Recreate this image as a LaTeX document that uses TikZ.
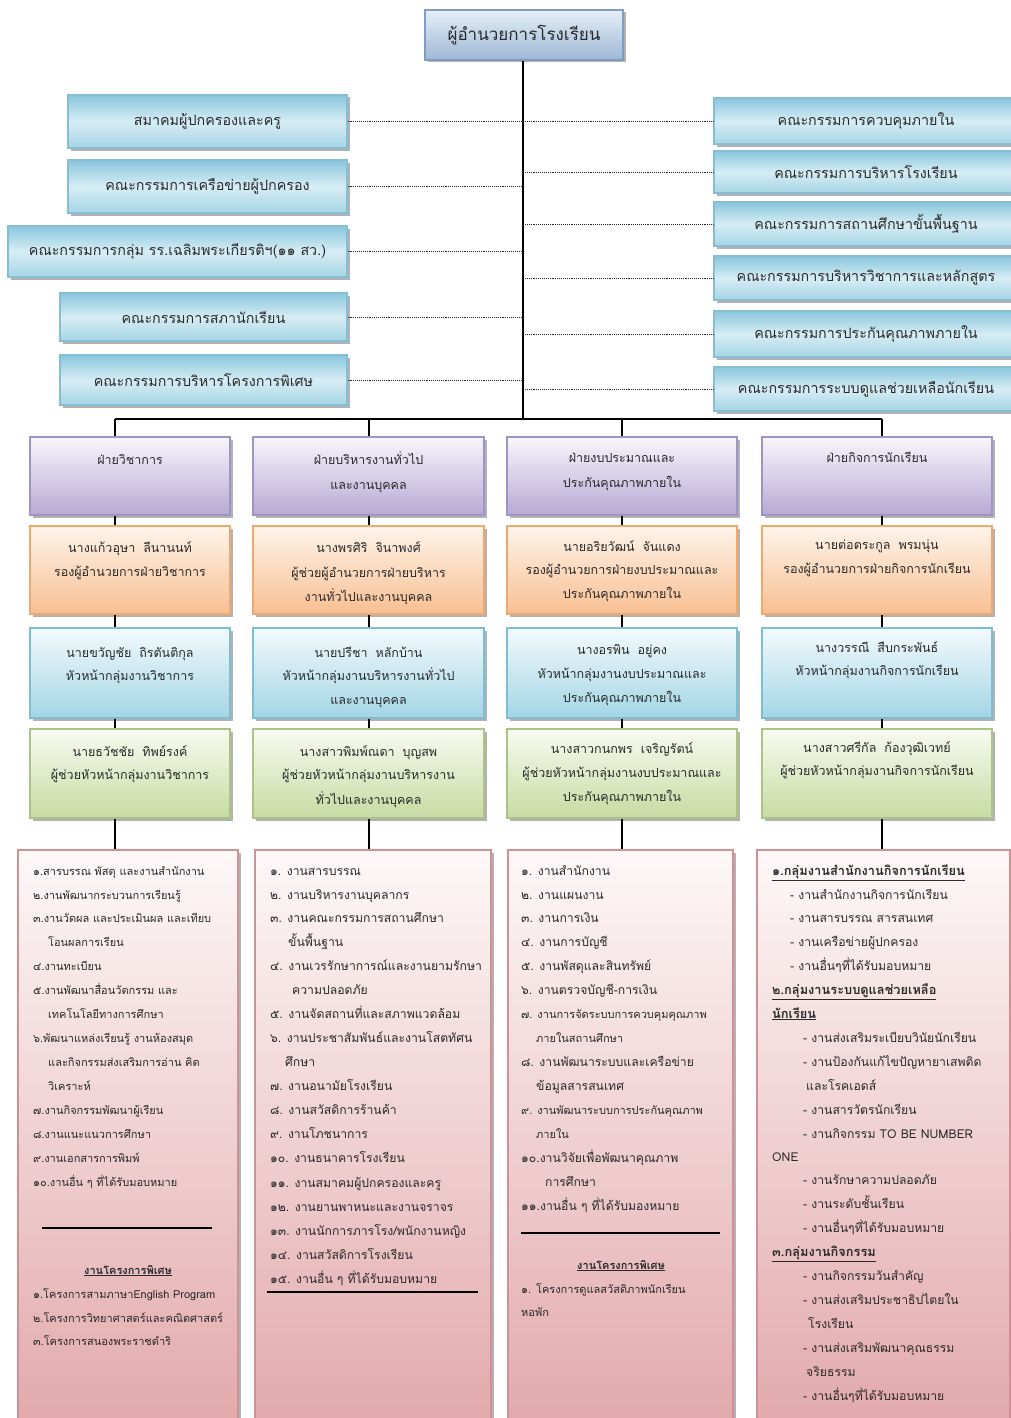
\documentclass[tikz,border=0pt]{standalone}
\usepackage{fontspec}
\setmainfont[Script=Thai]{Loma}
\usetikzlibrary{shadows}
\definecolor{txt}{HTML}{2A2A2A}
\definecolor{ttlT}{HTML}{E6EEF7}\definecolor{ttlB}{HTML}{9DB8D5}\definecolor{ttlD}{HTML}{7E9DC2}
\definecolor{cmT}{HTML}{8AC6DC}\definecolor{cmM}{HTML}{D6EDF5}\definecolor{cmB}{HTML}{A6D4E5}\definecolor{cmD}{HTML}{86BFD4}
\definecolor{puT}{HTML}{F8F6FB}\definecolor{puB}{HTML}{B7A9D5}\definecolor{puD}{HTML}{A093C6}
\definecolor{orT}{HTML}{FEF4EA}\definecolor{orB}{HTML}{F8BF92}\definecolor{orD}{HTML}{F2A86A}
\definecolor{blT}{HTML}{F3FAFC}\definecolor{blB}{HTML}{A3D5E6}\definecolor{blD}{HTML}{7CBFD4}
\definecolor{grT}{HTML}{F8FAF1}\definecolor{grB}{HTML}{C7DBA2}\definecolor{grD}{HTML}{ABC486}
\definecolor{pkT}{HTML}{FDF8F8}\definecolor{pkB}{HTML}{E2A8AB}\definecolor{pkD}{HTML}{CF9195}
\tikzset{
 box/.style={draw, line width=1.2pt, inner sep=0pt, drop shadow={shadow xshift=2.5pt, shadow yshift=-2.5pt, fill=black, opacity=0.3}},
 ttl/.style={box, draw=ttlD, top color=ttlT, bottom color=ttlB, font=\fontsize{17}{20}\selectfont, text=txt},
 cbox/.style={box, draw=cmD, top color=cmT, bottom color=cmB, middle color=cmM, font=\fontsize{14.3}{16}\selectfont, text=txt},
 pbox/.style={box, draw=puD, top color=puT, bottom color=puB},
 obox/.style={box, draw=orD, top color=orT, bottom color=orB},
 bbox/.style={box, draw=blD, top color=blT, bottom color=blB},
 gbox/.style={box, draw=grD, top color=grT, bottom color=grB},
 kbox/.style={box, draw=pkD, top color=pkT, bottom color=pkB},
 bt/.style={anchor=base, inner sep=0pt, text=txt, font=\fontsize{12.5}{14}\selectfont},
 lt/.style={anchor=base west, inner sep=0pt, text=txt, font=\fontsize{11}{13}\selectfont},
 lb/.style={anchor=base west, inner sep=0pt, text=txt, font=\fontsize{12.2}{14}\selectfont},
 ht/.style={anchor=base, inner sep=0pt, text=txt, font=\fontsize{11}{13}\selectfont\bfseries},
 hb/.style={anchor=base west, inner sep=0pt, text=txt, font=\fontsize{12.8}{14}\selectfont\bfseries},
 wire/.style={line width=1.8pt, black},
 dotw/.style={densely dotted, line width=0.9pt, black!85},
}
\begin{document}
\begin{tikzpicture}[x=1pt,y=-1pt]
\useasboundingbox[fill=white] (0,0) rectangle (1011,1418);

% title
\node[ttl, minimum width=198, minimum height=50] (ttl) at (524,35) {ผู้อำนวยการโรงเรียน};

% left committees
\node[cbox, minimum width=279, minimum height=53] (l1) at (207.5,121.5) {สมาคมผู้ปกครองและครู};
\node[cbox, minimum width=279, minimum height=53] (l2) at (207.5,186.5) {คณะกรรมการเครือข่ายผู้ปกครอง};
\node[cbox, minimum width=339, minimum height=51] (l3) at (177.5,251.5) {คณะกรรมการกลุ่ม รร.เฉลิมพระเกียรติฯ(๑๑ สว.)};
\node[cbox, minimum width=287, minimum height=48] (l4) at (203.5,317) {คณะกรรมการสภานักเรียน};
\node[cbox, minimum width=287, minimum height=50] (l5) at (203.5,380) {คณะกรรมการบริหารโครงการพิเศษ};

% right committees
\node[cbox, minimum width=304, minimum height=46] (r1) at (866,121) {คณะกรรมการควบคุมภายใน};
\node[cbox, minimum width=304, minimum height=42] (r2) at (866,172) {คณะกรรมการบริหารโรงเรียน};
\node[cbox, minimum width=304, minimum height=44] (r3) at (866,224) {คณะกรรมการสถานศึกษาขั้นพื้นฐาน};
\node[cbox, minimum width=304, minimum height=44] (r4) at (866,278) {คณะกรรมการบริหารวิชาการและหลักสูตร};
\node[cbox, minimum width=304, minimum height=46] (r5) at (866,334) {คณะกรรมการประกันคุณภาพภายใน};
\node[cbox, minimum width=304, minimum height=44] (r6) at (866,389) {คณะกรรมการระบบดูแลช่วยเหลือนักเรียน};

% trunk and bus
\coordinate (tb) at (523,419);
\coordinate (b1) at (115,419);
\coordinate (b2) at (369,419);
\coordinate (b3) at (622,419);
\coordinate (b4) at (882,419);
\draw[wire] (ttl.south -| tb) -- (tb);
\draw[wire] (b1) -- (b4);

\foreach \n in {l1,l2,l3,l4,l5} \draw[dotw] (\n.east) -- (\n.east -| tb);
\foreach \n in {r1,r2,r3,r4,r5,r6} \draw[dotw] (\n.west -| tb) -- (\n.west);

% column boxes
\foreach \c/\cx/\w in {1/130/200,2/368.5/231,3/622/230,4/877/230}{
  \node[pbox, minimum width=\w, minimum height=78] (p\c) at (\cx,476) {};
  \node[obox, minimum width=\w, minimum height=88] (o\c) at (\cx,570) {};
  \node[bbox, minimum width=\w, minimum height=90] (u\c) at (\cx,673) {};
  \node[gbox, minimum width=\w, minimum height=89] (g\c) at (\cx,773.5) {};
}
\node[kbox, minimum width=220, minimum height=580] (k1) at (128,1140) {};
\node[kbox, minimum width=236, minimum height=580] (k2) at (373,1140) {};
\node[kbox, minimum width=225, minimum height=580] (k3) at (620.5,1140) {};
\node[kbox, minimum width=253, minimum height=580] (k4) at (883.5,1140) {};

\foreach \c in {1,2,3,4}{
  \draw[wire] (b\c) -- (b\c |- p\c.north);
  \draw[wire] (b\c |- p\c.south) -- (b\c |- o\c.north);
  \draw[wire] (b\c |- o\c.south) -- (b\c |- u\c.north);
  \draw[wire] (b\c |- u\c.south) -- (b\c |- g\c.north);
  \draw[wire] (b\c |- g\c.south) -- (b\c |- k\c.north);
}

% box texts column 1
\node[bt] (p1a) at (130,464) {ฝ่ายวิชาการ};
\node[bt] (o1a) at (130,552) {นางแก้วอุษา\hspace{8pt}ลีนานนท์};
\node[bt] (o1b) at (130,576) {รองผู้อำนวยการฝ่ายวิชาการ};
\node[bt] (u1a) at (130,657) {นายขวัญชัย\hspace{8pt}ถิรตันติกุล};
\node[bt] (u1b) at (130,680) {หัวหน้ากลุ่มงานวิชาการ};
\node[bt] (g1a) at (130,756) {นายธวัชชัย\hspace{8pt}ทิพย์รงค์};
\node[bt] (g1b) at (130,779) {ผู้ช่วยหัวหน้ากลุ่มงานวิชาการ};
% column 2
\node[bt] (p2a) at (368.5,464) {ฝ่ายบริหารงานทั่วไป};
\node[bt] (p2b) at (368.5,489) {และงานบุคคล};
\node[bt] (o2a) at (368.5,552) {นางพรศิริ\hspace{8pt}จินาพงศ์};
\node[bt] (o2b) at (368.5,577) {ผู้ช่วยผู้อำนวยการฝ่ายบริหาร};
\node[bt] (o2c) at (368.5,601) {งานทั่วไปและงานบุคคล};
\node[bt] (u2a) at (368.5,657) {นายปรีชา\hspace{8pt}หลักบ้าน};
\node[bt] (u2b) at (368.5,680) {หัวหน้ากลุ่มงานบริหารงานทั่วไป};
\node[bt] (u2c) at (368.5,704) {และงานบุคคล};
\node[bt] (g2a) at (368.5,756) {นางสาวพิมพ์ณดา\hspace{8pt}บุญสพ};
\node[bt] (g2b) at (368.5,779) {ผู้ช่วยหัวหน้ากลุ่มงานบริหารงาน};
\node[bt] (g2c) at (368.5,804) {ทั่วไปและงานบุคคล};
% column 3
\node[bt] (p3a) at (622,462) {ฝ่ายงบประมาณและ};
\node[bt] (p3b) at (622,487) {ประกันคุณภาพภายใน};
\node[bt] (o3a) at (622,551) {นายอริยวัฒน์\hspace{8pt}จันแดง};
\node[bt] (o3b) at (622,574) {รองผู้อำนวยการฝ่ายงบประมาณและ};
\node[bt] (o3c) at (622,598) {ประกันคุณภาพภายใน};
\node[bt] (u3a) at (622,654) {นางอรพิน\hspace{8pt}อยู่คง};
\node[bt] (u3b) at (622,678) {หัวหน้ากลุ่มงานงบประมาณและ};
\node[bt] (u3c) at (622,702) {ประกันคุณภาพภายใน};
\node[bt] (g3a) at (622,753) {นางสาวกนกพร\hspace{8pt}เจริญรัตน์};
\node[bt] (g3b) at (622,777) {ผู้ช่วยหัวหน้ากลุ่มงานงบประมาณและ};
\node[bt] (g3c) at (622,801) {ประกันคุณภาพภายใน};
% column 4
\node[bt] (p4a) at (877,462) {ฝ่ายกิจการนักเรียน};
\node[bt] (o4a) at (877,549) {นายต่อตระกูล\hspace{8pt}พรมนุ่น};
\node[bt] (o4b) at (877,573) {รองผู้อำนวยการฝ่ายกิจการนักเรียน};
\node[bt] (u4a) at (877,652) {นางวรรณี\hspace{8pt}สืบกระพันธ์};
\node[bt] (u4b) at (877,675) {หัวหน้ากลุ่มงานกิจการนักเรียน};
\node[bt] (g4a) at (877,752) {นางสาวศรีกัล\hspace{8pt}ก้องวุฒิเวทย์};
\node[bt] (g4b) at (877,775) {ผู้ช่วยหัวหน้ากลุ่มงานกิจการนักเรียน};

% list column 1
\foreach \yy/\xx/\q [count=\i] in {
 871/33/{๑.สารบรรณ พัสดุ และงานสำนักงาน},
 895/33/{๒.งานพัฒนากระบวนการเรียนรู้},
 918/33/{๓.งานวัดผล และประเมินผล และเทียบ},
 942/48/{โอนผลการเรียน},
 966/33/{๔.งานทะเบียน},
 990/33/{๕.งานพัฒนาสื่อนวัตกรรม และ},
 1014/48/{เทคโนโลยีทางการศึกษา},
 1038/33/{๖.พัฒนาแหล่งเรียนรู้ งานห้องสมุด},
 1062/48/{และกิจกรรมส่งเสริมการอ่าน คิด},
 1086/48/{วิเคราะห์},
 1110/33/{๗.งานกิจกรรมพัฒนาผู้เรียน},
 1134/33/{๘.งานแนะแนวการศึกษา},
 1158/33/{๙.งานเอกสารการพิมพ์},
 1182/33/{๑๐.งานอื่น ๆ ที่ได้รับมอบหมาย},
 1294/33/{๑.โครงการสามภาษาEnglish Program},
 1318/33/{๒.โครงการวิทยาศาสตร์และคณิตศาสตร์},
 1341/33/{๓.โครงการสนองพระราชดำริ}}
 \node[lt] (a\i) at (\xx,\yy+4) {\q};
\coordinate (k1r1) at (42,1228);
\draw[line width=1.5pt] (k1r1) -- (k1r1 -| 212,0);
\node[ht] (k1h) at (128,1274) {\underline{งานโครงการพิเศษ}};

% list column 2
\foreach \yy/\xx/\q [count=\i] in {
 871/270/{๑. งานสารบรรณ},
 895/270/{๒. งานบริหารงานบุคลากร},
 918/270/{๓. งานคณะกรรมการสถานศึกษา},
 942/288/{ขั้นพื้นฐาน},
 966/270/{๔. งานเวรรักษาการณ์และงานยามรักษา},
 990/292/{ความปลอดภัย},
 1014/270/{๕. งานจัดสถานที่และสภาพแวดล้อม},
 1038/270/{๖. งานประชาสัมพันธ์และงานโสตทัศน},
 1062/285/{ศึกษา},
 1086/270/{๗. งานอนามัยโรงเรียน},
 1110/270/{๘. งานสวัสดิการร้านค้า},
 1134/270/{๙. งานโภชนาการ},
 1158/270/{๑๐. งานธนาคารโรงเรียน},
 1183/270/{๑๑. งานสมาคมผู้ปกครองและครู},
 1207/270/{๑๒. งานยานพาหนะและงานจราจร},
 1231/270/{๑๓. งานนักการภารโรง/พนักงานหญิง},
 1255/270/{๑๔. งานสวัสดิการโรงเรียน},
 1279/270/{๑๕. งานอื่น ๆ ที่ได้รับมอบหมาย}}
 \node[lb] (b\i) at (\xx,\yy+4) {\q};
\coordinate (k2r1) at (267,1292);
\draw[line width=1.5pt] (k2r1) -- (k2r1 -| 478,0);

% list column 3
\foreach \yy/\xx/\q/\s [count=\i] in {
 871/521/{๑. งานสำนักงาน}/lb,
 895/521/{๒. งานแผนงาน}/lb,
 918/521/{๓. งานการเงิน}/lb,
 942/521/{๔. งานการบัญชี}/lb,
 966/521/{๕. งานพัสดุและสินทรัพย์}/lb,
 990/521/{๖. งานตรวจบัญชี-การเงิน}/lb,
 1014/521/{๗. งานการจัดระบบการควบคุมคุณภาพ}/lt,
 1038/536/{ภายในสถานศึกษา}/lt,
 1062/521/{๘. งานพัฒนาระบบและเครือข่าย}/lb,
 1086/536/{ข้อมูลสารสนเทศ}/lb,
 1110/521/{๙. งานพัฒนาระบบการประกันคุณภาพ}/lt,
 1134/536/{ภายใน}/lt,
 1158/521/{๑๐.งานวิจัยเพื่อพัฒนาคุณภาพ}/lb,
 1182/545/{การศึกษา}/lb,
 1206/521/{๑๑.งานอื่น ๆ ที่ได้รับมองหมาย}/lb,
 1289/521/{๑. โครงการดูแลสวัสดิภาพนักเรียน}/lt,
 1312/521/{หอพัก}/lt}
 \node[\s] (c\i) at (\xx,\yy+4) {\q};
\coordinate (k3r1) at (521,1233);
\draw[line width=1.5pt] (k3r1) -- (k3r1 -| 720,0);
\node[ht] (k3h) at (621,1269) {\underline{งานโครงการพิเศษ}};

% list column 4
\foreach \yy/\xx/\q/\s [count=\i] in {
 871/772/{\underline{๑.กลุ่มงานสำนักงานกิจการนักเรียน}}/hb,
 895/790/{- งานสำนักงานกิจการนักเรียน}/lb,
 918/790/{- งานสารบรรณ สารสนเทศ}/lb,
 942/790/{- งานเครือข่ายผู้ปกครอง}/lb,
 966/790/{- งานอื่นๆที่ได้รับมอบหมาย}/lb,
 990/772/{\underline{๒.กลุ่มงานระบบดูแลช่วยเหลือ}}/hb,
 1014/772/{\underline{นักเรียน}}/hb,
 1038/803/{- งานส่งเสริมระเบียบวินัยนักเรียน}/lb,
 1062/803/{- งานป้องกันแก้ไขปัญหายาเสพติด}/lb,
 1086/806/{และโรคเอดส์}/lb,
 1110/803/{- งานสารวัตรนักเรียน}/lb,
 1134/803/{- งานกิจกรรม TO BE NUMBER}/lb,
 1157/772/{ONE}/lb,
 1180/803/{- งานรักษาความปลอดภัย}/lb,
 1204/803/{- งานระดับชั้นเรียน}/lb,
 1228/803/{- งานอื่นๆที่ได้รับมอบหมาย}/lb,
 1252/772/{\underline{๓.กลุ่มงานกิจกรรม}}/hb,
 1276/803/{- งานกิจกรรมวันสำคัญ}/lb,
 1300/803/{- งานส่งเสริมประชาธิปไตยใน}/lb,
 1324/808/{โรงเรียน}/lb,
 1348/803/{- งานส่งเสริมพัฒนาคุณธรรม}/lb,
 1372/806/{จริยธรรม}/lb,
 1396/803/{- งานอื่นๆที่ได้รับมอบหมาย}/lb}
 \node[\s] (d\i) at (\xx,\yy+4) {\q};
\end{tikzpicture}
\end{document}
